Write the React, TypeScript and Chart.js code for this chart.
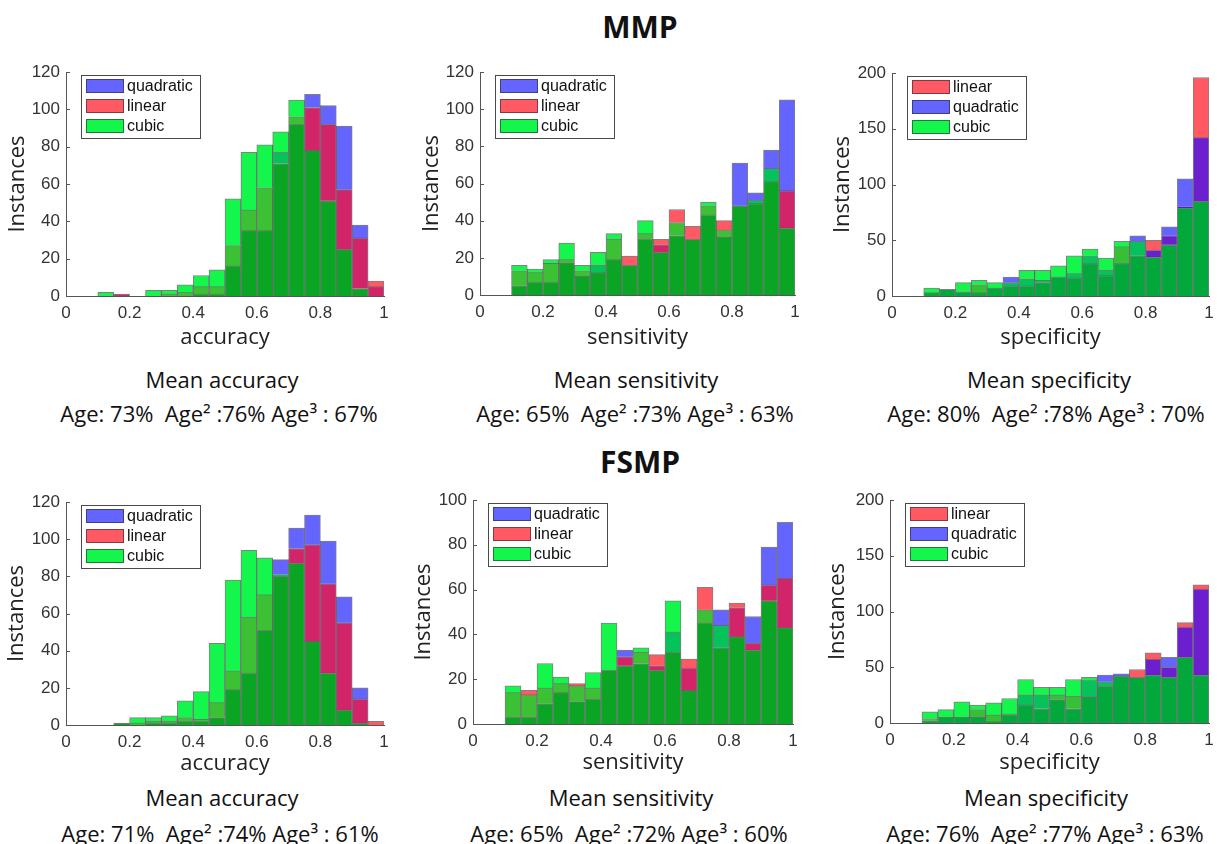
import React, { useEffect, useRef } from 'react';
import { Chart, registerables } from 'chart.js';

Chart.register(...registerables);

// ---------- data ----------
const binLabels = [
  '0.025', '0.075', '0.125', '0.175', '0.225', '0.275', '0.325', '0.375', '0.425', '0.475',
  '0.525', '0.575', '0.625', '0.675', '0.725', '0.775', '0.825', '0.875', '0.925', '0.975',
];

// MMP – accuracy
const mmpAccQuadratic = [0, 0, 0, 1, 0, 0, 0, 0, 1, 1, 16, 35, 35, 77, 92, 108, 102, 91, 38, 5];
const mmpAccLinear = [0, 0, 0, 1, 0, 0, 1, 2, 5, 5, 27, 46, 58, 71, 96, 101, 92, 57, 31, 8];
const mmpAccCubic = [0, 0, 2, 0, 0, 3, 3, 6, 11, 14, 52, 77, 81, 88, 105, 78, 51, 25, 4, 0];

// MMP – sensitivity
const mmpSensQuadratic = [0, 0, 5, 7, 7, 17, 10, 16, 19, 16, 30, 27, 32, 30, 43, 31, 71, 55, 78, 105];
const mmpSensLinear = [0, 0, 13, 12, 17, 19, 13, 12, 30, 21, 33, 30, 46, 37, 48, 40, 48, 49, 61, 56];
const mmpSensCubic = [0, 0, 16, 14, 19, 28, 16, 23, 33, 16, 40, 23, 39, 30, 50, 35, 48, 51, 68, 36];

// MMP – specificity
const mmpSpecLinear = [0, 0, 3, 6, 4, 10, 7, 9, 9, 12, 17, 16, 29, 18, 44, 36, 50, 54, 80, 196];
const mmpSpecQuadratic = [0, 0, 3, 6, 4, 3, 7, 17, 15, 14, 17, 20, 36, 23, 29, 54, 41, 62, 105, 142];
const mmpSpecCubic = [0, 0, 7, 6, 12, 14, 12, 12, 23, 23, 27, 36, 42, 34, 49, 49, 35, 46, 79, 85];

// FSMP – accuracy
const fsmpAccQuadratic = [0, 0, 0, 1, 0, 1, 1, 2, 2, 4, 19, 28, 51, 89, 106, 113, 99, 69, 20, 0];
const fsmpAccLinear = [0, 0, 0, 1, 1, 2, 2, 4, 3, 12, 29, 58, 70, 80, 95, 97, 76, 55, 14, 2];
const fsmpAccCubic = [0, 0, 0, 1, 4, 4, 5, 13, 18, 44, 78, 94, 90, 81, 87, 45, 28, 8, 1, 0];

// FSMP – sensitivity
const fsmpSensQuadratic = [0, 0, 3, 3, 9, 14, 10, 11, 24, 33, 27, 26, 41, 25, 45, 51, 52, 48, 79, 90];
const fsmpSensLinear = [0, 0, 14, 15, 16, 18, 18, 16, 24, 30, 32, 31, 32, 29, 61, 34, 54, 36, 62, 65];
const fsmpSensCubic = [0, 0, 17, 13, 27, 21, 17, 23, 45, 26, 34, 24, 55, 15, 51, 44, 39, 33, 55, 43];

// FSMP – specificity
const fsmpSpecLinear = [0, 0, 4, 5, 5, 12, 7, 8, 16, 13, 25, 24, 24, 33, 42, 48, 63, 50, 90, 124];
const fsmpSpecQuadratic = [0, 0, 2, 5, 5, 5, 1, 7, 25, 25, 21, 13, 38, 43, 44, 41, 57, 59, 86, 120];
const fsmpSpecCubic = [0, 0, 10, 12, 19, 16, 18, 22, 39, 32, 32, 39, 41, 37, 42, 41, 43, 41, 59, 43];

const yTicks120 = [0, 20, 40, 60, 80, 100, 120];
const yTicks100 = [0, 20, 40, 60, 80, 100];
const yTicks200 = [0, 50, 100, 150, 200];
const xTickLabels = ['0', '0.2', '0.4', '0.6', '0.8', '1'];

const groupTitles = ['MMP', 'FSMP'];
const captionTitles = ['Mean accuracy', 'Mean sensitivity', 'Mean specificity', 'Mean accuracy', 'Mean sensitivity', 'Mean specificity'];
const captionScores = [
  'Age: 73%  Age² :76% Age³ : 67%',
  'Age: 65%  Age² :73% Age³ : 63%',
  'Age: 80%  Age² :78% Age³ : 70%',
  'Age: 71%  Age² :74% Age³ : 61%',
  'Age: 65%  Age² :72% Age³ : 60%',
  'Age: 76%  Age² :77% Age³ : 63%',
];

// ---------- styles ----------
const baseColors: Record<string, string> = { Q: '#6464fe', L: '#ff5a64', C: '#14f64c' };
const paletteQL: Record<string, string> = {
  Q: '#6464fe', L: '#ff5a64', C: '#14f64c', QL: '#d12469', QC: '#05c25b', LC: '#3bc133', QLC: '#0aa525',
};
const paletteLQ: Record<string, string> = {
  Q: '#6464fe', L: '#ff5a64', C: '#14f64c', QL: '#6b1fcf', QC: '#05c25b', LC: '#36c036', QLC: '#03a83d',
};
const names: Record<string, string> = { Q: 'quadratic', L: 'linear', C: 'cubic' };

type PanelDef = {
  q: number[]; l: number[]; c: number[];
  legendOrder: string[]; palette: Record<string, string>;
  yTicks: number[]; xTitle: string;
  L: number; R: number; T: number; B: number; titleX: number; xh: number;
};

const panels: PanelDef[] = [
  { q: mmpAccQuadratic, l: mmpAccLinear, c: mmpAccCubic, legendOrder: ['Q', 'L', 'C'], palette: paletteQL, yTicks: yTicks120, xTitle: 'accuracy', L: 66, R: 384, T: 72, B: 296, titleX: 18, xh: 55 },
  { q: mmpSensQuadratic, l: mmpSensLinear, c: mmpSensCubic, legendOrder: ['Q', 'L', 'C'], palette: paletteQL, yTicks: yTicks120, xTitle: 'sensitivity', L: 480, R: 795, T: 72, B: 295, titleX: 432, xh: 56 },
  { q: mmpSpecQuadratic, l: mmpSpecLinear, c: mmpSpecCubic, legendOrder: ['L', 'Q', 'C'], palette: paletteLQ, yTicks: yTicks200, xTitle: 'specificity', L: 892, R: 1209, T: 73, B: 296, titleX: 843, xh: 55 },
  { q: fsmpAccQuadratic, l: fsmpAccLinear, c: fsmpAccCubic, legendOrder: ['Q', 'L', 'C'], palette: paletteQL, yTicks: yTicks120, xTitle: 'accuracy', L: 66, R: 384, T: 502, B: 725, titleX: 17, xh: 52 },
  { q: fsmpSensQuadratic, l: fsmpSensLinear, c: fsmpSensCubic, legendOrder: ['Q', 'L', 'C'], palette: paletteQL, yTicks: yTicks100, xTitle: 'sensitivity', L: 473, R: 793, T: 500, B: 724, titleX: 424, xh: 52 },
  { q: fsmpSpecQuadratic, l: fsmpSpecLinear, c: fsmpSpecCubic, legendOrder: ['L', 'Q', 'C'], palette: paletteLQ, yTicks: yTicks200, xTitle: 'specificity', L: 890, R: 1209, T: 500, B: 723, titleX: 838, xh: 53 },
];

const PAD_TOP = 12;
const PAD_RIGHT = 12;

function buildLayers(p: PanelDef) {
  const layers = [0, 1, 2].map(() => ({ data: [] as any[], colors: [] as string[] }));
  for (let i = 0; i < binLabels.length; i++) {
    const vals: Record<string, number> = { Q: p.q[i], L: p.l[i], C: p.c[i] };
    const th = Array.from(new Set([p.q[i], p.l[i], p.c[i]].filter((v) => v > 0))).sort((a, b) => a - b);
    let lo = 0;
    for (let k = 0; k < 3; k++) {
      if (k < th.length) {
        const hi = th[k];
        const key = ['Q', 'L', 'C'].filter((s) => vals[s] >= hi).join('');
        layers[k].data.push([lo, hi]);
        layers[k].colors.push(p.palette[key]);
        lo = hi;
      } else {
        layers[k].data.push(null);
        layers[k].colors.push('rgba(0,0,0,0)');
      }
    }
  }
  return layers;
}

function Panel({ p }: { p: PanelDef }) {
  const ref = useRef<HTMLCanvasElement>(null);
  const left = p.titleX - 13;
  const top = p.T - PAD_TOP;
  const W = p.R + PAD_RIGHT - left;
  const H = p.B - top + p.xh;
  const yw = p.L - left;

  useEffect(() => {
    const layers = buildLayers(p);
    const yMax = p.yTicks[p.yTicks.length - 1];
    const step = p.yTicks[1] - p.yTicks[0];

    const decor = {
      id: 'matlabDecor',
      afterDraw(chart: any) {
        const { ctx, chartArea } = chart;
        const ys = chart.scales.y;
        ctx.save();
        ctx.strokeStyle = '#555';
        ctx.lineWidth = 1;
        p.yTicks.forEach((t) => {
          const py = Math.round(ys.getPixelForValue(t)) + 0.5;
          ctx.beginPath();
          ctx.moveTo(chartArea.left, py);
          ctx.lineTo(chartArea.left + 4, py);
          ctx.stroke();
        });
        const x0 = Math.round(chartArea.left + 15);
        const y0 = Math.round(chartArea.top + 3);
        const w = 119;
        const h = 63;
        ctx.fillStyle = '#ffffff';
        ctx.fillRect(x0, y0, w, h);
        ctx.strokeStyle = '#4a4a4a';
        ctx.strokeRect(x0 + 0.5, y0 + 0.5, w, h);
        ctx.font = '16px "Liberation Sans", Arial, sans-serif';
        ctx.textBaseline = 'middle';
        ctx.textAlign = 'left';
        p.legendOrder.forEach((s, i) => {
          const sy = y0 + 4 + i * 20;
          ctx.fillStyle = baseColors[s];
          ctx.fillRect(x0 + 5, sy, 38, 14);
          ctx.strokeStyle = 'rgba(40,40,40,0.6)';
          ctx.strokeRect(x0 + 5.5, sy + 0.5, 37, 13);
          ctx.fillStyle = '#111';
          ctx.fillText(names[s], x0 + 46, sy + 7.5);
        });
        ctx.restore();
      },
    };

    const chart = new Chart(ref.current as HTMLCanvasElement, {
      type: 'bar',
      data: {
        labels: binLabels,
        datasets: layers.map((ly, k) => ({
          label: 'layer' + k,
          data: ly.data,
          backgroundColor: ly.colors,
          borderColor: 'rgba(25,25,25,0.55)',
          borderWidth: 1,
          barPercentage: 1,
          categoryPercentage: 1,
          grouped: false,
          xAxisID: 'x',
          yAxisID: 'y',
        })),
      } as any,
      options: {
        animation: false,
        responsive: false,
        devicePixelRatio: 1,
        layout: { padding: { top: PAD_TOP, right: PAD_RIGHT, left: 0, bottom: 0 } },
        plugins: { legend: { display: false }, tooltip: { enabled: false } },
        scales: {
          x: { type: 'category', display: false, offset: true, grid: { display: false } },
          xt: {
            type: 'linear', axis: 'x', position: 'bottom', min: 0, max: 1, offset: false,
            grid: { display: false, drawTicks: false, offset: false },
            border: { display: true, color: '#555', width: 1 },
            ticks: {
              stepSize: 0.2, padding: 7, color: '#333',
              font: { size: 17, family: '"Liberation Sans", Arial, sans-serif' },
              callback: (v: number) => xTickLabels[Math.round(v * 5)] ?? '',
            },
            title: { display: true, text: p.xTitle, color: '#222', padding: 0, font: { size: 22, family: '"Open Sans", sans-serif' } },
            afterFit: (s: any) => { s.height = p.xh; s.paddingLeft = 0; s.paddingRight = 0; },
          },
          y: {
            type: 'linear', min: 0, max: yMax,
            grid: { display: false, drawTicks: false },
            border: { display: true, color: '#555', width: 1 },
            ticks: { stepSize: step, padding: 6, color: '#333', font: { size: 17, family: '"Liberation Sans", Arial, sans-serif' } },
            title: { display: true, text: 'Instances', color: '#222', padding: 0, font: { size: 22, family: '"Open Sans", sans-serif' } },
            afterFit: (s: any) => { s.width = yw; s.paddingTop = 0; s.paddingBottom = 0; },
          },
        },
      } as any,
      plugins: [decor],
    });
    return () => chart.destroy();
  }, []);

  return (
    <canvas
      ref={ref}
      width={W}
      height={H}
      style={{ position: 'absolute', left, top, width: W, height: H }}
    />
  );
}

const capFont = '"Open Sans", sans-serif';

function Text({ x, y, text, size, bold }: { x: number; y: number; text: string; size: number; bold?: boolean }) {
  return (
    <div
      style={{
        position: 'absolute', left: x, top: y, transform: 'translate(-50%, -50%)',
        whiteSpace: 'pre', fontFamily: capFont, fontSize: size, fontWeight: bold ? 700 : 400,
        color: '#111', lineHeight: 1,
      }}
    >
      {text}
    </div>
  );
}

const captionPos = [
  { x: 222, y1: 379, x2: 219, y2: 413 },
  { x: 636, y1: 379, x2: 635, y2: 413 },
  { x: 1049, y1: 379, x2: 1046, y2: 413 },
  { x: 222, y1: 797, x2: 220, y2: 833 },
  { x: 631, y1: 797, x2: 629, y2: 833 },
  { x: 1046, y1: 797, x2: 1045, y2: 833 },
];

export default function App() {
  return (
    <div style={{ position: 'absolute', left: 0, top: 0, width: 1217, height: 844, background: '#fff', overflow: 'hidden' }}>
      <Text x={640} y={27} text={groupTitles[0]} size={30} bold />
      <Text x={640} y={462} text={groupTitles[1]} size={30} bold />
      {panels.map((p, i) => (
        <Panel key={i} p={p} />
      ))}
      {captionPos.map((c, i) => (
        <React.Fragment key={i}>
          <Text x={c.x} y={c.y1} text={captionTitles[i]} size={22} />
          <Text x={c.x2} y={c.y2} text={captionScores[i]} size={22} />
        </React.Fragment>
      ))}
    </div>
  );
}
